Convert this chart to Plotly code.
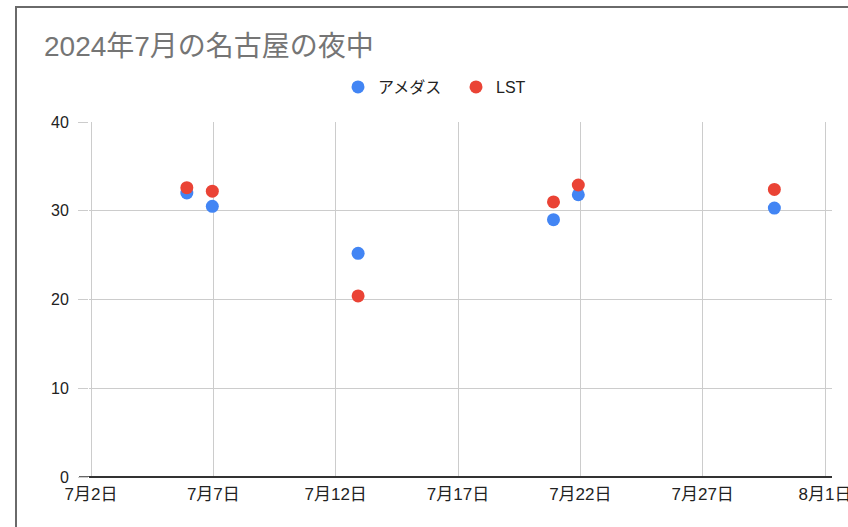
import plotly.graph_objects as go

dates = ["2024-07-05 22:00", "2024-07-06 23:00", "2024-07-12 22:00",
         "2024-07-20 21:40", "2024-07-21 22:00", "2024-07-29 22:20"]
amedas = [32.0, 30.5, 25.2, 29.0, 31.8, 30.3]
lst = [32.6, 32.2, 20.4, 31.0, 32.9, 32.4]

tick_vals = ["2024-07-02", "2024-07-07", "2024-07-12", "2024-07-17",
             "2024-07-22", "2024-07-27", "2024-08-01"]
tick_text = ["7月2日", "7月7日", "7月12日", "7月17日", "7月22日", "7月27日", "8月1日"]

FONT = "Liberation Sans, Arial, Noto Sans CJK JP"

L, R, T, B = 89, 16, 122, 50
W, H = 848, 527
PW, PH = W - L - R, H - T - B

fig = go.Figure()
fig.add_trace(go.Scatter(x=dates, y=amedas, mode="markers", name="アメダス",
                         marker=dict(color="#4285F4", size=13)))
fig.add_trace(go.Scatter(x=dates, y=lst, mode="markers", name="LST",
                         marker=dict(color="#EA4335", size=13)))

fig.update_layout(
    width=W, height=H,
    margin=dict(l=L, r=R, t=T, b=B, autoexpand=False),
    paper_bgcolor="white", plot_bgcolor="white",
    font=dict(family=FONT, color="#222222", size=16),
    title=dict(text="2024年7月の名古屋の夜中", x=44/W, xanchor="left",
               y=1-46/H, yanchor="middle",
               font=dict(family=FONT, size=28, color="#757575")),
    legend=dict(orientation="h", x=(338-L)/PW, xanchor="left",
                y=(H-B-87)/PH, yanchor="middle",
                font=dict(family=FONT, size=16, color="#222222"),
                entrywidth=73),
    showlegend=True,
)

fig.update_xaxes(type="date", range=["2024-07-01 22:02", "2024-08-01 06:52"],
                 tickvals=tick_vals, ticktext=tick_text,
                 showgrid=True, gridcolor="#CCCCCC", gridwidth=1,
                 zeroline=False, showline=False, ticks="",
                 automargin=False,
                 ticklabelstandoff=5, ticklabeloverflow="allow",
                 tickfont=dict(family=FONT, size=17, color="#222222"))
fig.update_yaxes(range=[0, 40], dtick=10, tick0=0,
                 showgrid=True, gridcolor="#CCCCCC", gridwidth=1,
                 zeroline=True, zerolinecolor="#333333", zerolinewidth=1.5,
                 ticks="outside", ticklen=10, tickcolor="#CCCCCC",
                 ticklabelstandoff=6, automargin=False,
                 showline=False,
                 tickfont=dict(family=FONT, size=16, color="#222222"))

# dark tick for the zero line
fig.add_shape(type="line", xref="paper", yref="y",
              x0=(79-L)/PW, x1=0, y0=0, y1=0,
              line=dict(color="#333333", width=1.5))

# outer frame of the original chart card
fig.add_shape(type="rect", xref="paper", yref="paper",
              x0=(16-L)/PW, x1=1.5, y0=-1, y1=(H-B-7)/PH,
              line=dict(color="#6A6A6A", width=2), fillcolor="rgba(0,0,0,0)",
              layer="below")

fig.write_html("out.html")
